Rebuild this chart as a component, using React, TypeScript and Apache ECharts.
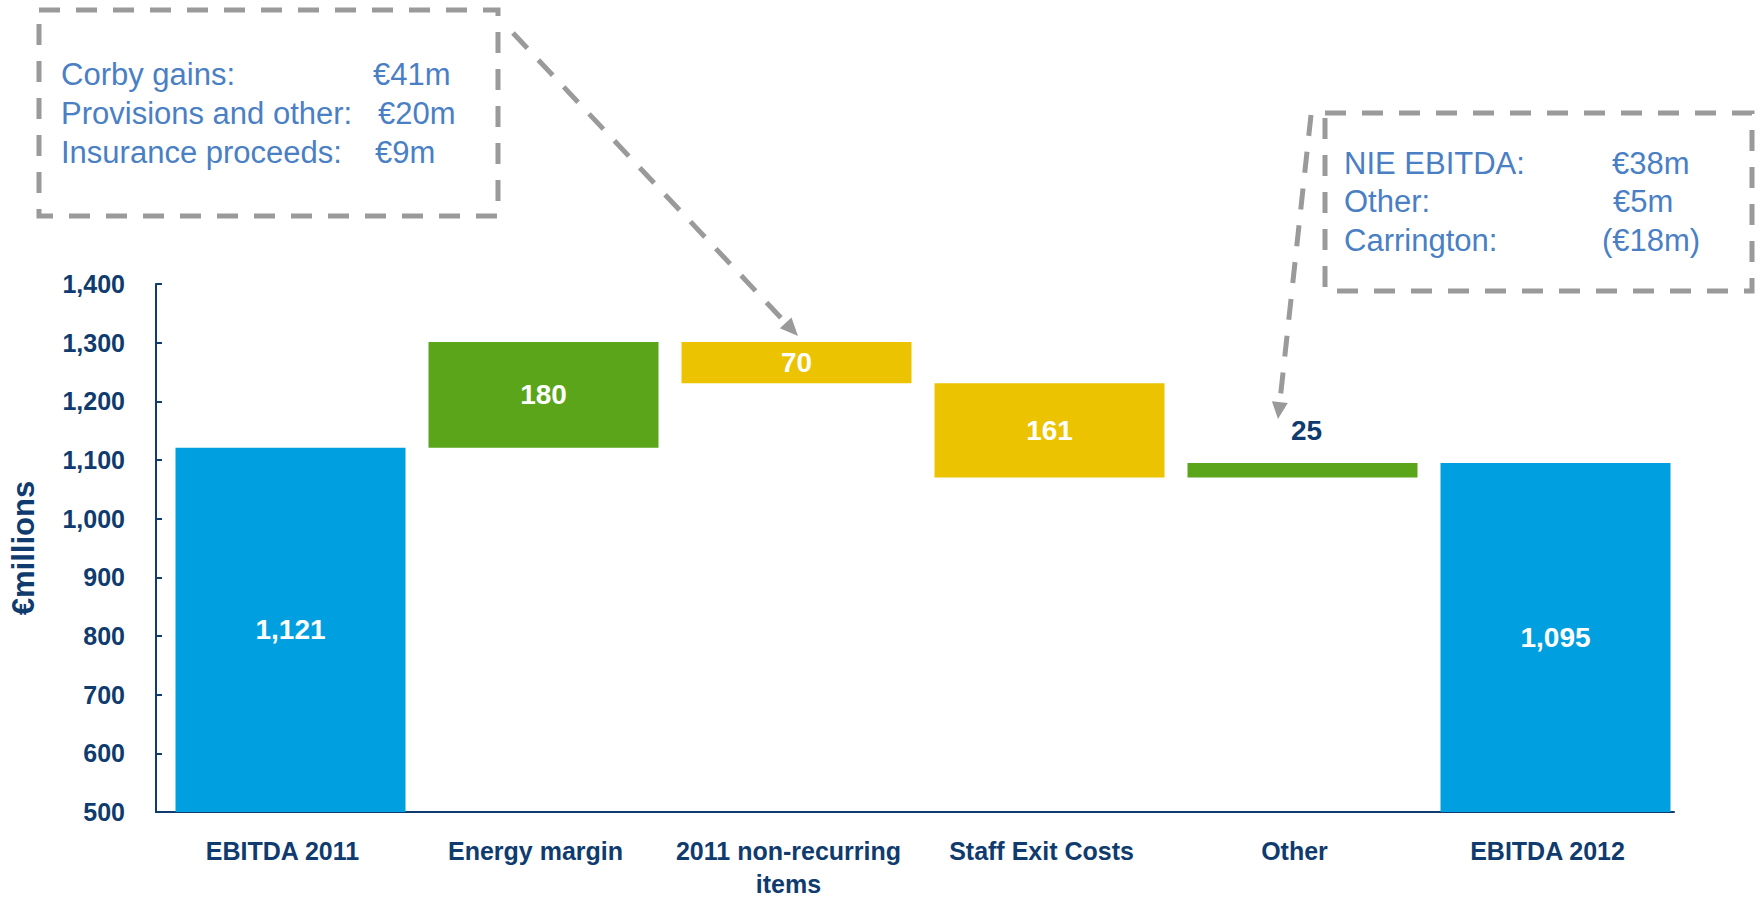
import { useEffect, useRef } from "react";
import * as echarts from "echarts";

// Waterfall steps: EBITDA 2011 -> EBITDA 2012 (€ millions)
const categories = [
  "EBITDA 2011",
  "Energy margin",
  "2011 non-recurring\nitems",
  "Staff Exit Costs",
  "Other",
  "EBITDA 2012",
];
const stepValues = [1121, 180, -70, -161, 25, 1095];
const stepKinds = ["total", "up", "down", "down", "up", "total"];

// Value axis ticks
const axisMin = 500;
const axisMax = 1400;
const axisStep = 100;

// Call-out notes
const noteLeftLabels = ["Corby gains:", "Provisions and other:", "Insurance proceeds:"];
const noteLeftValues = ["€41m", "€20m", "€9m"];
const noteRightLabels = ["NIE EBITDA:", "Other:", "Carrington:"];
const noteRightValues = ["€38m", "€5m", "(€18m)"];

const NAVY = "#0f3b6e";
const NOTE_BLUE = "#4a7fc4";
const DASH_GREY = "#9a9a9a";
const KIND_COLOURS: Record<string, string> = {
  total: "#00a0e0",
  up: "#5aa51a",
  down: "#ebc300",
};
const FONT = '"Liberation Sans", Arial, Helvetica, sans-serif';

function buildSteps() {
  const bases: number[] = [];
  const heights: number[] = [];
  let running = 0;
  stepValues.forEach((v, i) => {
    const kind = stepKinds[i];
    if (kind === "total") {
      bases.push(0);
      heights.push(v);
      running = v;
    } else if (v >= 0) {
      bases.push(running);
      heights.push(v);
      running += v;
    } else {
      running += v;
      bases.push(running);
      heights.push(-v);
    }
  });
  return { bases, heights };
}

function arrow(x1: number, y1: number, x2: number, y2: number, headLen: number, headHalf: number) {
  const dx = x2 - x1;
  const dy = y2 - y1;
  const len = Math.sqrt(dx * dx + dy * dy);
  const ux = dx / len;
  const uy = dy / len;
  const bx = x2 - ux * headLen;
  const by = y2 - uy * headLen;
  const px = -uy;
  const py = ux;
  return [
    {
      type: "line",
      shape: { x1, y1, x2: bx, y2: by },
      style: { stroke: DASH_GREY, lineWidth: 5, lineDash: [21, 16] },
      silent: true,
    },
    {
      type: "polygon",
      shape: {
        points: [
          [x2, y2],
          [bx + px * headHalf, by + py * headHalf],
          [bx - px * headHalf, by - py * headHalf],
        ],
      },
      style: { fill: DASH_GREY },
      silent: true,
    },
  ];
}

function noteText(text: string, x: number, y: number) {
  return {
    type: "text",
    x,
    y,
    silent: true,
    style: {
      text,
      fill: NOTE_BLUE,
      fontSize: 31,
      fontFamily: FONT,
      verticalAlign: "middle",
      align: "left",
    },
  };
}

export default function App() {
  const ref = useRef<HTMLDivElement>(null);

  useEffect(() => {
    document.body.style.margin = "0";
    if (!ref.current) return;
    const chart = echarts.init(ref.current, undefined, { renderer: "svg" });
    const { bases, heights } = buildSteps();

    const leftRows = [74, 113.5, 152];
    const leftValueX = [373, 378, 375];
    const rightRows = [163.5, 201.5, 240.5];
    const rightValueX = [1612, 1613, 1602];

    const graphics: any[] = [
      {
        type: "rect",
        silent: true,
        shape: { x: 39, y: 10, width: 459, height: 206 },
        style: { fill: "none", stroke: DASH_GREY, lineWidth: 5, lineDash: [21, 16] },
      },
      {
        type: "rect",
        silent: true,
        shape: { x: 1325, y: 113, width: 427, height: 178 },
        style: { fill: "none", stroke: DASH_GREY, lineWidth: 5, lineDash: [21, 16] },
      },
      ...noteLeftLabels.map((t, i) => noteText(t, 61, leftRows[i])),
      ...noteLeftValues.map((t, i) => noteText(t, leftValueX[i], leftRows[i])),
      ...noteRightLabels.map((t, i) => noteText(t, 1344, rightRows[i])),
      ...noteRightValues.map((t, i) => noteText(t, rightValueX[i], rightRows[i])),
      ...arrow(513, 33, 798, 336, 18, 8),
      ...arrow(1311, 115, 1278, 419, 17, 8),
    ];

    chart.setOption({
      animation: false,
      grid: { left: 152, right: 90, top: 284, bottom: 87, containLabel: false },
      xAxis: {
        type: "category",
        data: categories,
        axisLine: { show: true, lineStyle: { color: NAVY, width: 2 } },
        axisTick: { show: false },
        axisLabel: {
          interval: 0,
          color: NAVY,
          fontSize: 25,
          fontWeight: "bold",
          fontFamily: FONT,
          margin: 22,
          lineHeight: 33,
        },
      },
      yAxis: {
        type: "value",
        min: axisMin,
        max: axisMax,
        interval: axisStep,
        name: "€millions",
        nameLocation: "middle",
        nameRotate: 90,
        nameGap: 117,
        nameTextStyle: { color: NAVY, fontSize: 31, fontWeight: "bold", fontFamily: FONT },
        axisLine: { show: true, lineStyle: { color: NAVY, width: 2 } },
        axisTick: { show: true, inside: true, length: 6, lineStyle: { color: NAVY, width: 2 } },
        splitLine: { show: false },
        axisLabel: {
          color: NAVY,
          fontSize: 25,
          fontWeight: "bold",
          fontFamily: FONT,
          margin: 31,
          formatter: (v: number) => v.toLocaleString("en-US"),
        },
      },
      series: [
        {
          // empty spacer column: sits left of each step so the bars clear the value axis
          type: "bar",
          silent: true,
          barWidth: 16,
          barGap: "0%",
          data: categories.map(() => null),
        },
        {
          type: "bar",
          stack: "wf",
          silent: true,
          barWidth: 230,
          barGap: "0%",
          itemStyle: { color: "transparent" },
          data: bases,
        },
        {
          type: "bar",
          stack: "wf",
          barWidth: 230,
          barGap: "0%",
          data: heights.map((h, i) => {
            const floating = i === 4;
            return {
              value: h,
              itemStyle: { color: KIND_COLOURS[stepKinds[i]] },
              label: {
                show: true,
                position: floating ? "top" : "inside",
                distance: floating ? 18 : 5,
                offset: floating ? [4, 0] : [0, 0],
                color: floating ? NAVY : "#ffffff",
                fontSize: 28,
                fontWeight: "bold",
                fontFamily: FONT,
                formatter: (p: any) => Number(p.value).toLocaleString("en-US"),
              },
            };
          }),
        },
      ],
      graphic: graphics,
    });

    return () => chart.dispose();
  }, []);

  return <div ref={ref} style={{ width: 1764, height: 900 }} />;
}
